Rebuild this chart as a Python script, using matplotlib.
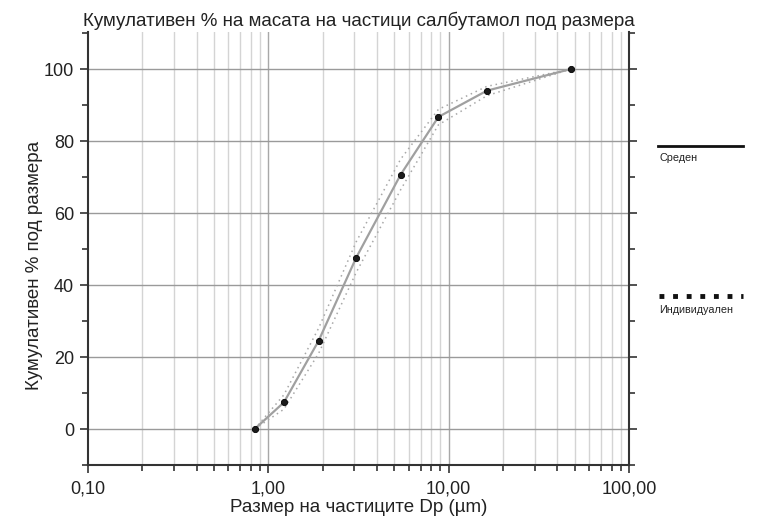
import matplotlib
matplotlib.use("Agg")
import matplotlib.pyplot as plt
from matplotlib.lines import Line2D
from matplotlib.ticker import FixedLocator, NullFormatter
import numpy as np

plt.rcParams['font.family'] = ['Liberation Sans', 'DejaVu Sans']

# Data
particle_size = [0.84, 1.22, 1.90, 3.07, 5.42, 8.77, 16.3, 47.5]
mean_cum = [0, 7.4, 24.5, 47.6, 70.7, 86.7, 94.0, 100]
indiv_a = [0, 9.5, 28.0, 52.0, 75.0, 88.8, 95.2, 100]
indiv_b = [0, 5.5, 21.0, 43.5, 66.5, 84.5, 92.6, 100]

x_major = [0.1, 1, 10, 100]
x_major_labels = ['0,10', '1,00', '10,00', '100,00']
y_major = [0, 20, 40, 60, 80, 100]
y_minor = [-10, 10, 30, 50, 70, 90, 110]

title = 'Кумулативен % на масата на частици салбутамол под размера'
xlabel = 'Размер на частиците Dp (µm)'
ylabel = 'Кумулативен % под размера'
legend_mean = 'Среден'
legend_indiv = 'Индивидуален'

fig = plt.figure(figsize=(7.63, 5.17), dpi=100)
ax = fig.add_axes([88/763, 52/517, (629-88)/763, (465-32)/517])

ax.set_xscale('log')
ax.set_xlim(0.1, 100)
ax.set_ylim(-10, 110.3)

# grid
minor_x = [m * d for d in [0.1, 1, 10] for m in range(2, 10)]
for xv in minor_x:
    ax.axvline(xv, color='#d4d4d4', lw=1.0, zorder=0)
for xv in [1, 10]:
    ax.axvline(xv, color='#a8a8a8', lw=1.0, zorder=0)
for yv in y_major:
    ax.axhline(yv, color='#9a9a9a', lw=1.0, zorder=0)

# individual
ax.plot(particle_size, indiv_a, linestyle=(0, (1, 2.5)), color='#a8a8a8', lw=1.1, zorder=2)
ax.plot(particle_size, indiv_b, linestyle=(0, (1, 2.5)), color='#a8a8a8', lw=1.1, zorder=2)
# mean
ax.plot(particle_size, mean_cum, color='#a0a0a0', lw=1.6, zorder=3,
        marker='o', ms=4.5, mfc='#1a1a1a', mec='#000000', mew=0.6)

ax.xaxis.set_major_locator(FixedLocator(x_major))
ax.set_xticklabels(x_major_labels)
ax.xaxis.set_minor_locator(FixedLocator(minor_x))
ax.xaxis.set_minor_formatter(NullFormatter())
ax.yaxis.set_major_locator(FixedLocator(y_major))
ax.yaxis.set_minor_locator(FixedLocator(y_minor))

for s in ['left', 'right', 'bottom']:
    ax.spines[s].set_color('#333333')
    ax.spines[s].set_linewidth(1.5)
ax.spines['top'].set_visible(False)

ax.tick_params(axis='both', which='major', direction='out', length=6, width=1.2,
               color='#333333', labelsize=13, labelcolor='#222222', pad=5)
ax.tick_params(axis='y', which='major', pad=4)
ax.tick_params(axis='both', which='minor', direction='out', length=4, width=1.2, color='#333333')
ax.tick_params(axis='y', which='both', right=True, labelright=False)

ax.set_title(title, fontsize=13.5, color='#222222', pad=4)
ax.set_xlabel(xlabel, fontsize=13.5, color='#222222', labelpad=1)
ax.set_ylabel(ylabel, fontsize=13.5, color='#222222', va='center')
ax.yaxis.set_label_coords((35 - 88) / 541, 0.46)

# legend on the right
fig.add_artist(Line2D([658/763, 743/763], [1 - 146/517, 1 - 146/517], color='#111111', lw=2))
fig.text(659/763, 1 - 158/517, legend_mean, fontsize=7.8, color='#222222', va='center', ha='left')
fig.add_artist(Line2D([659/763, 743/763], [1 - 296/517, 1 - 296/517], color='#111111', lw=3.5,
                      linestyle=(0, (1, 1.8))))
fig.text(659/763, 1 - 310/517, legend_indiv, fontsize=7.8, color='#222222', va='center', ha='left')

fig.savefig('out.png', dpi=100)
